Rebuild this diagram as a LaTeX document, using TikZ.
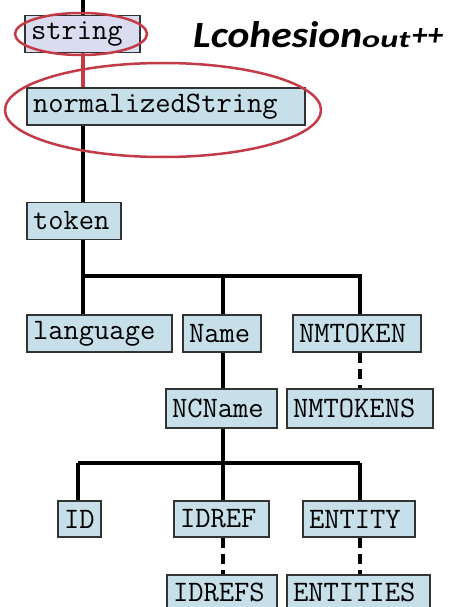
\documentclass[tikz,border=0pt]{standalone}
\usepackage{fontspec}
\newfontfamily\labelfont{Carlito}
\begin{document}
\begin{tikzpicture}[x=1pt,y=-1pt,
  typebox/.style={draw=black!80, line width=1.8pt, fill=boxfill,
    font=\ttfamily\fontsize{29.7}{30}\selectfont, inner xsep=6pt, inner ysep=0pt,
    minimum height=#1, align=left, anchor=center},
  typebox/.default=37pt,
  link/.style={line width=3.5pt, black},
  derived/.style={line width=3.5pt, black, dash pattern=on 10pt off 6pt},
  hilite/.style={draw=markred, line width=2.5pt}]
\definecolor{boxfill}{HTML}{C6DFE8}
\definecolor{basefill}{HTML}{DADCF0}
\definecolor{markred}{HTML}{C23B46}
\useasboundingbox (0,0) rectangle (448,607);
\fill[white] (0,0) rectangle (448,607);

% trunk positions
\coordinate (top) at (83,0);
\coordinate (bus1) at (83,276);
\coordinate (bus2) at (223,463);

% string and normalizedString
\node[typebox, fill=basefill, text width=103pt] (string) at (82.5,34) {string};
\node[typebox, text width=266pt] (norm) at (166,106.5) {normalizedString};
\node[typebox, text width=82pt] (token) at (74,221) {token};

% second level
\node[typebox, text width=133pt] (language) at (99.5,333.5) {language};
\node[typebox, text width=66pt] (name) at (222,333.5) {Name};
\node[typebox, text width=116pt] (nmtoken) at (357,333.5) {NMTOKEN};

% third level
\node[typebox, minimum height=39pt, text width=99pt] (ncname) at (221.5,408.5) {NCName};
\node[typebox, minimum height=39pt, text width=134pt] (nmtokens) at (360,408.5) {NMTOKENS};

% fourth level
\node[typebox, minimum height=36pt, text width=31pt] (id) at (79.5,519) {ID};
\node[typebox, minimum height=36pt, text width=83pt] (idref) at (221.5,519) {IDREF};
\node[typebox, minimum height=36pt, text width=100pt] (entity) at (359,519) {ENTITY};

% list types, running off the bottom edge
\node[typebox, minimum height=38pt, text width=98pt] (idrefs) at (222,594) {\raisebox{4pt}{IDREFS}};
\node[typebox, minimum height=38pt, text width=131pt] (entities) at (358.5,594) {\raisebox{4pt}{ENTITIES}};

% connectors
\draw[link] (top) -- (top |- string.north);
\draw[link, draw=markred] (top |- string.south) -- (top |- norm.north);
\draw[link] (top |- norm.south) -- (top |- token.north);
\draw[link] (top |- token.south) -- (bus1) -- (bus1 |- language.north);
\draw[link] (bus1) -| (nmtoken.north -| 360,0);
\draw[link] (223,276) -- (name.north -| 223,0);
\draw[link] (name.south -| 223,0) -- (ncname.north -| 223,0);
\draw[derived] (nmtoken.south -| 360,0) -- (nmtokens.north -| 360,0);
\draw[link] (ncname.south -| bus2) -- (bus2);
\draw[link] (78,463) -- (360,463);
\draw[link] (78,463) -- (id.north -| 78,0);
\draw[link] (bus2) -- (idref.north -| bus2);
\draw[link] (360,463) -- (entity.north -| 360,0);
\draw[derived] (idref.south -| bus2) -- (idrefs.north -| bus2);
\draw[derived] (entity.south -| 360,0) -- (entities.north -| 360,0);

% highlight rings
\draw[hilite] (81,34) ellipse [x radius=66pt, y radius=21pt];
\draw[hilite] (163,110) ellipse [x radius=158pt, y radius=47pt];

% metric label
\node[anchor=base west, inner sep=0pt, font=\labelfont\bfseries\itshape\fontsize{36}{36}\selectfont] (metric) at (193,48)
  {\resizebox{169pt}{26pt}{Lcohesion}\resizebox{48pt}{15pt}{out}\hspace{2pt}\raisebox{2pt}{\resizebox{31pt}{!}{\fontsize{24}{24}\selectfont ++}}};
\end{tikzpicture}
\end{document}
